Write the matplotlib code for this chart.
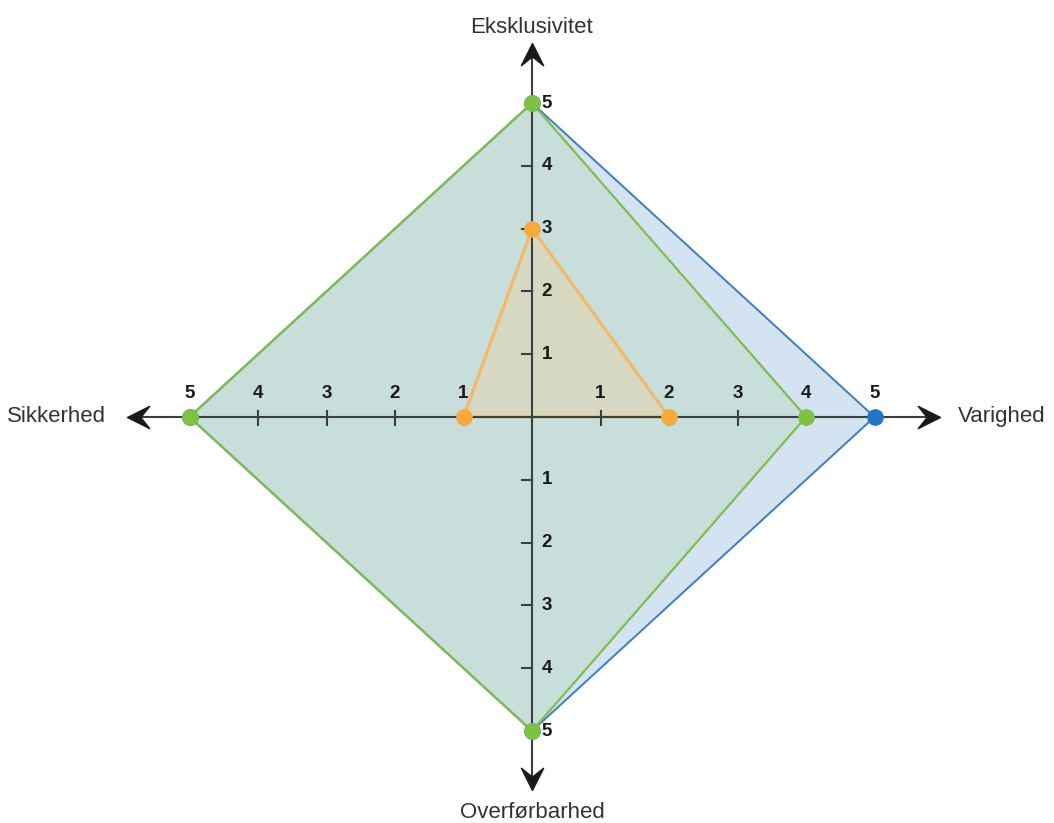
import numpy as np
import matplotlib.pyplot as plt
from matplotlib.path import Path

plt.rcParams['font.family'] = ['Liberation Sans', 'DejaVu Sans']

# axes: up, right, down, left
axis_names = ['Eksklusivitet', 'Varighed', 'Overførbarhed', 'Sikkerhed']
blue_vals = [5, 5, 5, 5]
green_vals = [5, 4, 5, 5]
orange_vals = [3, 2, 0, 1]
tick_vals = [1, 2, 3, 4, 5]

dirs = np.array([[0, 1], [1, 0], [0, -1], [-1, 0]])

fig = plt.figure(figsize=(10.54, 8.23), dpi=100)
ax = fig.add_axes([0, 0, 1, 1])
ax.set_xlim(-532 / 68.5, (1054 - 532) / 68.5)
ax.set_ylim(-(823 - 417) / 62.8, 417 / 62.8)
ax.axis('off')

axis_col = '#3a3f3f'

def pts(vals):
    v = np.array(vals)[:, None] * dirs
    return v[:, 0], v[:, 1]

# polygons
series = [
    (blue_vals, '#a9c8e4', 0.5, '#3d7dc4', '#1f77c4', 1.4),
    (green_vals, '#acd5ab', 0.3, '#7dbf4a', '#7dc242', 1.6),
    (orange_vals, '#ffcb89', 0.3, '#f5b867', '#f7a93b', 2.2),
]
for vals, fc, a, ec, mc, lw in series:
    x, y = pts(vals)
    ax.fill(x, y, color=fc, alpha=a, zorder=1, lw=0)
    ax.plot(np.append(x, x[0]), np.append(y, y[0]), color=ec, lw=lw, zorder=2)

# axis lines
ax.plot([-5.85, 5.9], [0, 0], color=axis_col, lw=1.5, zorder=3)
ax.plot([0, 0], [-5.9, 5.9], color=axis_col, lw=1.5, zorder=3)

# arrowheads (chevron shape)
base = np.array([[0, 0], [-1, 0.5], [-0.6, 0], [-1, -0.5], [0, 0]])
def arrow_marker(angle):
    c, s = np.cos(angle), np.sin(angle)
    v = base @ np.array([[c, s], [-s, c]])
    return Path(v, [Path.MOVETO, Path.LINETO, Path.LINETO, Path.LINETO, Path.CLOSEPOLY])

tips = [(0, 5.96, np.pi / 2), (5.96, 0, 0), (0, -5.94, -np.pi / 2), (-5.91, 0, np.pi)]
for tx, ty, ang in tips:
    ax.plot(tx, ty, marker=arrow_marker(ang), markersize=32, color='#1a1a1a', zorder=4)

# ticks
for t in tick_vals[:-1]:
    ax.plot([t, t], [-0.12, 0.1], color=axis_col, lw=1.5, zorder=3)
    ax.plot([-t, -t], [-0.12, 0.1], color=axis_col, lw=1.5, zorder=3)
    ax.plot([-0.15, 0], [t, t], color=axis_col, lw=1.5, zorder=3)
    ax.plot([-0.15, 0], [-t, -t], color=axis_col, lw=1.5, zorder=3)

lab_kw = dict(fontsize=13.5, fontweight='bold', color='#1a1a1a', zorder=6)
for t in tick_vals:
    ax.text(t, 0.37, str(t), ha='center', va='center', **lab_kw)
    ax.text(-t, 0.37, str(t), ha='center', va='center', **lab_kw)
    ax.text(0.14, t, str(t), ha='left', va='center', **lab_kw)
    ax.text(0.14, -t, str(t), ha='left', va='center', **lab_kw)

# points
for vals, fc, a, ec, mc, lw in series:
    x, y = pts(vals)
    keep = np.array(vals) > 0
    ax.plot(x[keep], y[keep], 'o', color=mc, markersize=12, zorder=5, mec='none')

# axis names
name_kw = dict(fontsize=16, color='#333333')
ax.text(0, 6.21, axis_names[0], ha='center', va='center', **name_kw)
ax.text(6.22, 0, axis_names[1], ha='left', va='center', **name_kw)
ax.text(0, -6.29, axis_names[2], ha='center', va='center', **name_kw)
ax.text(-6.22, 0, axis_names[3], ha='right', va='center', **name_kw)

fig.savefig('out.png', dpi=100)
